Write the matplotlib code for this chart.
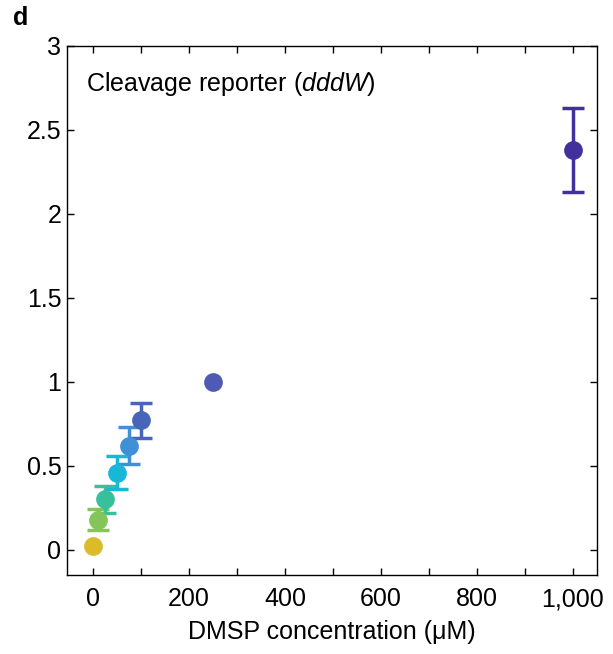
import numpy as np
import matplotlib.pyplot as plt
from matplotlib.ticker import MultipleLocator, FuncFormatter

plt.rcParams['font.family'] = ['Liberation Sans', 'DejaVu Sans']
plt.rcParams['mathtext.fontset'] = 'custom'
plt.rcParams['mathtext.rm'] = 'Liberation Sans'
plt.rcParams['mathtext.it'] = 'Liberation Sans:italic'

# DMSP concentration (uM) and reporter signal
conc = [0, 10, 25, 50, 75, 100, 250, 1000]
signal = [0.02, 0.18, 0.30, 0.46, 0.62, 0.77, 1.00, 2.38]
err = [0.0, 0.06, 0.08, 0.10, 0.11, 0.105, 0.0, 0.25]
colors = ['#dcbb2a', '#84c55a', '#38bf9c', '#19b7d6', '#3f90d6',
          '#4766ba', '#4f5ab4', '#42309c']

fig = plt.figure(figsize=(6.13, 6.54), dpi=100)
ax = fig.add_axes([0.1093, 0.1208, 0.8646, 0.8089])

for x, y, e, c in zip(conc, signal, err, colors):
    if e > 0:
        ax.errorbar(x, y, yerr=e, fmt='none', ecolor=c, elinewidth=2.5,
                    capsize=8, capthick=2.5, zorder=2)
    ax.plot(x, y, 'o', color=c, markersize=13.5, markeredgewidth=0, zorder=3)

ax.set_xlim(-54, 1050)
ax.set_ylim(-0.15, 3)
ax.xaxis.set_major_locator(MultipleLocator(200))
ax.xaxis.set_minor_locator(MultipleLocator(100))
ax.yaxis.set_major_locator(MultipleLocator(0.5))
ax.xaxis.set_major_formatter(FuncFormatter(lambda v, p: f'{int(v):,}'))
ax.yaxis.set_major_formatter(FuncFormatter(lambda v, p: f'{v:g}'))
ax.tick_params(which='both', direction='in', top=True, right=True,
               labelsize=18, width=1, length=5)
ax.tick_params(axis='x', which='major', pad=9)
ax.tick_params(axis='y', which='major', pad=4)
for s in ax.spines.values():
    s.set_linewidth(1)

ax.set_xlabel('DMSP concentration (\u03bcM)', fontsize=18, labelpad=6)
ax.text(0.036, 0.928, 'Cleavage reporter ($\\it{dddW}$)', transform=ax.transAxes,
        fontsize=18, va='center', ha='left')
fig.text(0.021, 0.972, 'd', fontsize=18, fontweight='bold', va='center')

fig.savefig('out.png', dpi=100)
